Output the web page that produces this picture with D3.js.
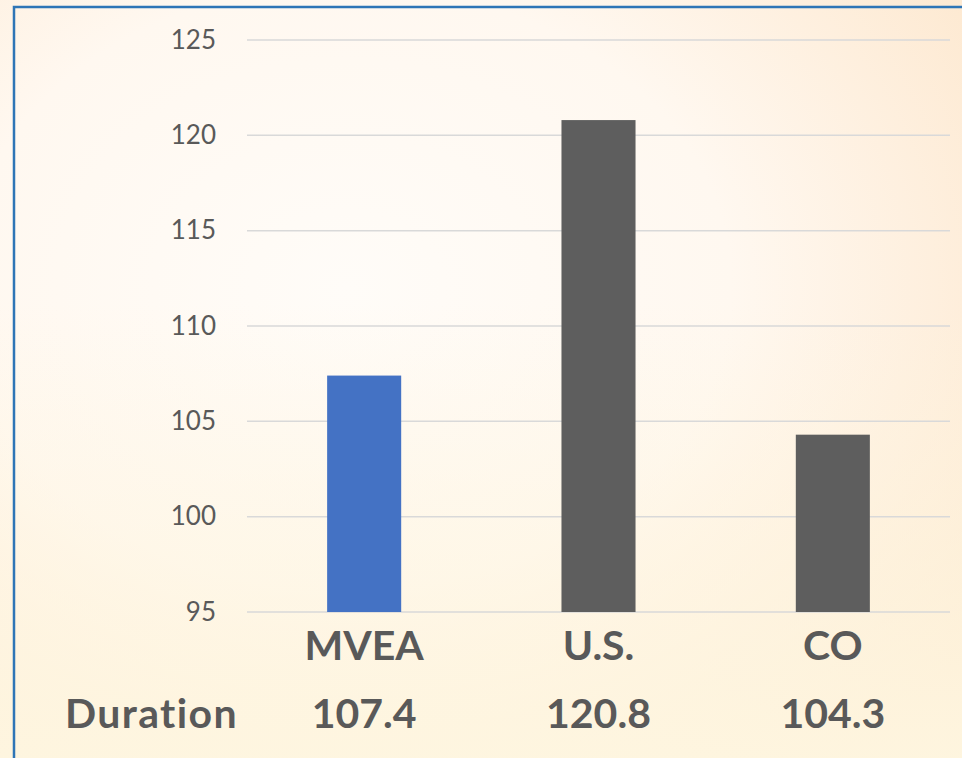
<!DOCTYPE html>
<html>
<head>
<meta charset="utf-8">
<script src="https://cdn.jsdelivr.net/npm/d3@7"></script>
<style>
  body { margin: 0; background: #fff6ee; }
  svg { display: block; }
</style>
</head>
<body>
<script>
//Chart data
var categories = ["MVEA", "U.S.", "CO"];
var durations = [107.4, 120.8, 104.3];
var barColors = ["#4472c4", "#5e5e5e", "#5e5e5e"];
var yTicks = [95, 100, 105, 110, 115, 120, 125];
var rowLabel = "Duration";

//Define size
var width = 962, height = 758;
var plot = {left: 247, right: 950, top: 40, bottom: 612};

var svg = d3.select("body")
    .append("svg")
    .attr("width", width)
    .attr("height", height);

//Background gradients
var defs = svg.append("defs");
var radial = defs.append("radialGradient")
    .attr("id", "bgRadial")
    .attr("cx", "0.36").attr("cy", "0.38").attr("r", "0.8");
radial.append("stop").attr("offset", "0").attr("stop-color", "#fffcf8");
radial.append("stop").attr("offset", "0.5").attr("stop-color", "#fff8f0");
radial.append("stop").attr("offset", "1").attr("stop-color", "#fde7cd");

var bottomGlow = defs.append("linearGradient")
    .attr("id", "bgBottom")
    .attr("x1", 0).attr("y1", 0).attr("x2", 0).attr("y2", 1);
bottomGlow.append("stop").attr("offset", "0.4").attr("stop-color", "#fef6e0").attr("stop-opacity", 0);
bottomGlow.append("stop").attr("offset", "1").attr("stop-color", "#fef6e0").attr("stop-opacity", 0.92);

svg.append("rect")
    .attr("width", width).attr("height", height)
    .attr("fill", "url(#bgRadial)");
svg.append("rect")
    .attr("width", width).attr("height", height)
    .attr("fill", "url(#bgBottom)");

//Frame (only top and left edges are visible)
svg.append("path")
    .attr("d", "M14," + (height + 5) + "V7H" + (width + 5))
    .attr("fill", "none")
    .attr("stroke", "#2e75b6")
    .attr("stroke-width", 2.5);

//Scales
var x = d3.scaleBand()
    .domain(categories)
    .range([plot.left, plot.right])
    .paddingInner(0.684)
    .paddingOuter(0.342);

var y = d3.scaleLinear()
    .domain([95, 125])
    .range([plot.bottom, plot.top]);

//Gridlines
svg.append("g")
    .attr("class", "grid")
    .selectAll("line")
    .data(yTicks)
    .enter().append("line")
    .attr("x1", plot.left)
    .attr("x2", plot.right)
    .attr("y1", function(d) { return y(d); })
    .attr("y2", function(d) { return y(d); })
    .attr("stroke", "#d9d9d9")
    .attr("stroke-width", 1.5);

//Y axis labels
var yAxis = d3.axisLeft(y)
    .tickValues(yTicks)
    .tickSize(0)
    .tickPadding(31);

svg.append("g")
    .attr("transform", "translate(" + plot.left + ",0)")
    .call(yAxis)
    .call(function(g) { g.select(".domain").remove(); })
    .selectAll("text")
    .attr("fill", "#595959")
    .attr("font-family", "Lato, 'Open Sans', sans-serif")
    .attr("font-size", 26);

//Bars
svg.append("g")
    .selectAll("rect")
    .data(durations)
    .enter().append("rect")
    .attr("x", function(d, i) { return x(categories[i]); })
    .attr("width", x.bandwidth())
    .attr("y", function(d) { return y(d); })
    .attr("height", function(d) { return y(95) - y(d); })
    .attr("fill", function(d, i) { return barColors[i]; });

//Category labels under the bars
var xAxis = d3.axisBottom(x)
    .tickSize(0)
    .tickPadding(0);

svg.append("g")
    .attr("transform", "translate(0," + plot.bottom + ")")
    .call(xAxis)
    .call(function(g) { g.select(".domain").remove(); })
    .selectAll("text")
    .attr("dy", null)
    .attr("y", 48)
    .attr("fill", "#595959")
    .attr("font-family", "Lato, 'Open Sans', sans-serif")
    .attr("font-weight", "bold")
    .attr("font-size", 41);

//Duration row
var row = svg.append("g")
    .attr("font-family", "Lato, 'Open Sans', sans-serif")
    .attr("font-weight", "bold")
    .attr("font-size", 41)
    .attr("fill", "#595959");

row.append("text")
    .attr("x", 238)
    .attr("y", 728)
    .attr("text-anchor", "end")
    .attr("letter-spacing", 1.4)
    .text(rowLabel);

row.selectAll(".val")
    .data(durations)
    .enter().append("text")
    .attr("class", "val")
    .attr("x", function(d, i) { return x(categories[i]) + x.bandwidth() / 2; })
    .attr("y", 728)
    .attr("text-anchor", "middle")
    .text(function(d) { return d3.format(".1f")(d); });
</script>
</body>
</html>
